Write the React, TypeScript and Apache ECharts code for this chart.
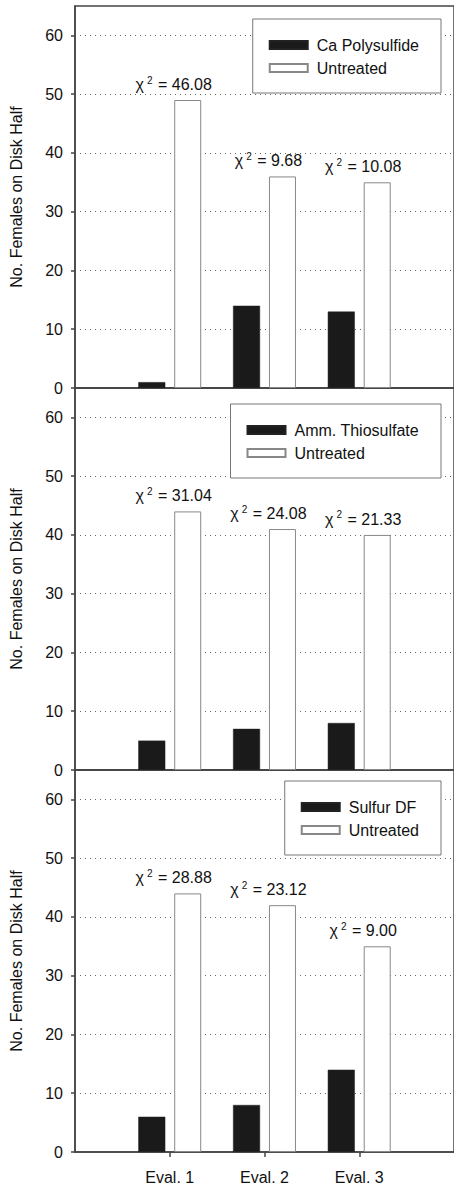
import React, { useEffect, useRef } from "react";
import * as echarts from "echarts";

const categories = ["Eval. 1", "Eval. 2", "Eval. 3"];
const yTicks = [0, 10, 20, 30, 40, 50, 60];
const yMax = 65;
const yAxisTitle = "No. Females on Disk Half";
const controlName = "Untreated";

const treatmentNames = ["Ca Polysulfide", "Amm. Thiosulfate", "Sulfur DF"];

const caPolysulfide = [1, 14, 13];
const caUntreated = [49, 36, 35];
const caChi = ["46.08", "9.68", "10.08"];

const ammThiosulfate = [5, 7, 8];
const ammUntreated = [44, 41, 40];
const ammChi = ["31.04", "24.08", "21.33"];

const sulfurDF = [6, 8, 14];
const sulfurUntreated = [44, 42, 35];
const sulfurChi = ["28.88", "23.12", "9.00"];

const treatedValues = [caPolysulfide, ammThiosulfate, sulfurDF];
const untreatedValues = [caUntreated, ammUntreated, sulfurUntreated];
const chiValues = [caChi, ammChi, sulfurChi];

const FONT = "'Liberation Sans', Arial, Helvetica, sans-serif";
const AXIS_COLOR = "#444";
const TEXT_COLOR = "#111";

const panelTops = [6, 388, 770];
const panelHeight = 382;
const legendTops = [19, 404, 781];

export default function App() {
  const ref = useRef<HTMLDivElement>(null);

  useEffect(() => {
    if (!ref.current) return;
    const chart = echarts.init(ref.current, undefined, { renderer: "svg" });
    const catPositions = categories.map((_, k) => k + 1);
    const last = treatmentNames.length - 1;

    const grid = panelTops.map((top) => ({
      left: 75,
      right: -2,
      top,
      height: panelHeight,
      show: true,
      borderColor: AXIS_COLOR,
      borderWidth: 1.5,
      backgroundColor: "transparent",
    }));

    const xAxis = treatmentNames.map((_, i) => ({
      gridIndex: i,
      type: "value",
      min: 0,
      max: categories.length + 1,
      interval: 1,
      axisLine: { show: true, onZero: false, lineStyle: { color: AXIS_COLOR, width: 1.5 } },
      axisTick: {
        show: i === last,
        customValues: catPositions,
        length: 5,
        lineStyle: { color: AXIS_COLOR, width: 1.5 },
      },
      axisLabel: {
        show: i === last,
        customValues: catPositions,
        formatter: (v: number) => categories[v - 1] ?? "",
        fontSize: 16,
        fontFamily: FONT,
        color: TEXT_COLOR,
        margin: 17,
      },
      splitLine: { show: false },
    }));

    const yAxis = treatmentNames.map((_, i) => ({
      gridIndex: i,
      type: "value",
      min: 0,
      max: yMax,
      interval: 10,
      name: yAxisTitle,
      nameLocation: "middle",
      nameGap: 51,
      nameTextStyle: { fontSize: 16, fontFamily: FONT, color: TEXT_COLOR },
      axisLine: { show: true, lineStyle: { color: AXIS_COLOR, width: 1.5 } },
      axisTick: {
        show: true,
        customValues: yTicks,
        length: 4,
        lineStyle: { color: AXIS_COLOR, width: 1.5 },
      },
      axisLabel: {
        customValues: yTicks,
        fontSize: 16,
        fontFamily: FONT,
        color: TEXT_COLOR,
        margin: 12,
      },
      splitLine: {
        show: true,
        lineStyle: { type: [1, 4], color: "#666", width: 1 },
      },
    }));

    const legend = treatmentNames.map((name, i) => ({
      orient: "vertical",
      right: 13,
      top: legendTops[i],
      data: [name, controlName],
      icon: "rect",
      itemWidth: 38,
      itemHeight: 8,
      itemGap: 7,
      padding: [18, 22, 17, 16],
      borderColor: "#777",
      borderWidth: 1,
      backgroundColor: "#fff",
      selectedMode: false,
      textStyle: { fontSize: 16, fontFamily: FONT, color: TEXT_COLOR, padding: [0, 0, 0, 4] },
    }));

    const series: any[] = [];
    treatmentNames.forEach((name, i) => {
      series.push({
        type: "bar",
        name,
        xAxisIndex: i,
        yAxisIndex: i,
        data: treatedValues[i].map((v, k) => [catPositions[k], v]),
        barWidth: 27,
        barGap: "33%",
        itemStyle: { color: "#1a1a1a", borderColor: "#222", borderWidth: 0.5 },
      });
      series.push({
        type: "bar",
        name: controlName,
        xAxisIndex: i,
        yAxisIndex: i,
        data: untreatedValues[i].map((v, k) => [catPositions[k], v]),
        barWidth: 27,
        barGap: "33%",
        itemStyle: { color: "#fff", borderColor: "#888", borderWidth: 1 },
        label: {
          show: true,
          position: "top",
          distance: 6,
          offset: [-14, 0],
          formatter: (p: any) => `{c|χ}{s|2}{t| = ${chiValues[i][p.dataIndex]}}`,
          rich: {
            c: { fontSize: 16, lineHeight: 19, fontFamily: FONT, color: TEXT_COLOR },
            s: {
              fontSize: 10,
              lineHeight: 10,
              verticalAlign: "top",
              padding: [0, 1, 0, 3],
              fontFamily: FONT,
              color: TEXT_COLOR,
            },
            t: { fontSize: 16, lineHeight: 19, fontFamily: FONT, color: TEXT_COLOR },
          },
        },
      });
    });

    chart.setOption({
      animation: false,
      backgroundColor: "#fff",
      textStyle: { fontFamily: FONT },
      grid,
      xAxis,
      yAxis,
      legend,
      series,
    });

    return () => chart.dispose();
  }, []);

  return (
    <div
      ref={ref}
      style={{ position: "absolute", left: 0, top: 0, width: 454, height: 1185 }}
    />
  );
}
